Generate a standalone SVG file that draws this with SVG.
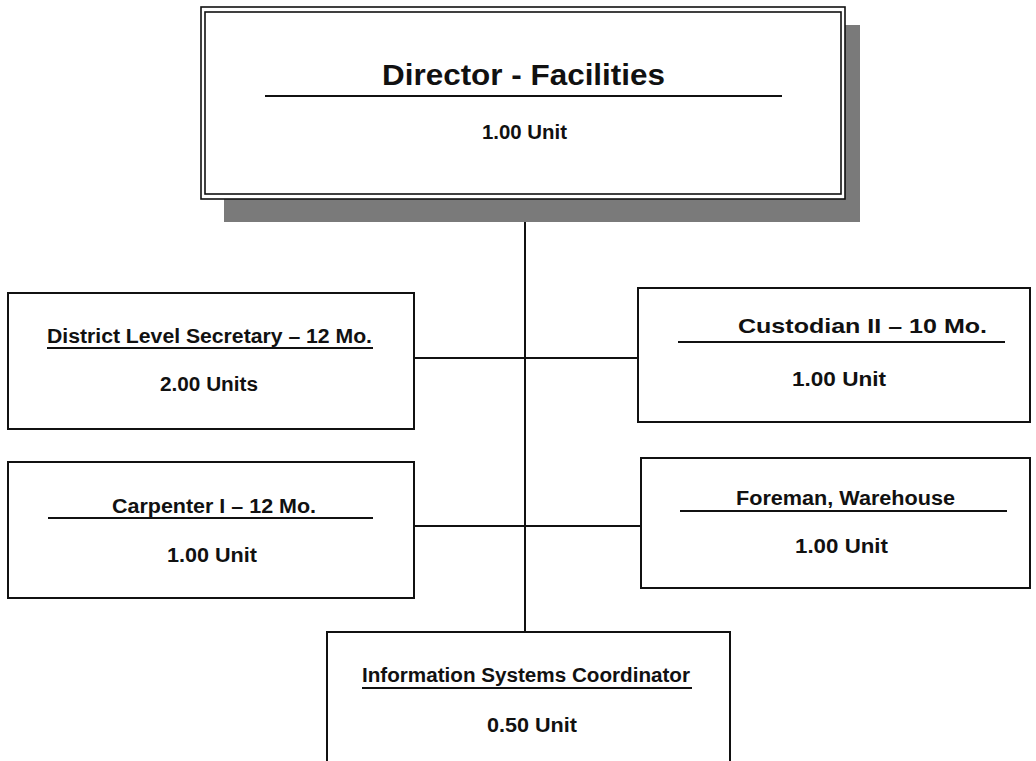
<svg xmlns="http://www.w3.org/2000/svg" width="1036" height="761" viewBox="0 0 1036 761">
<style>
.box{fill:#fff;stroke:#111;stroke-width:2}
.dbl{fill:none;stroke:#111;stroke-width:1.6}
.ul{stroke:#111;stroke-width:2}
.t{font-family:"Liberation Sans",Arial,sans-serif;font-weight:bold;fill:#111;font-size:20px}
.big{font-size:29px}
.con{stroke:#111;stroke-width:2;fill:none}
</style>
<rect width="1036" height="761" fill="#fff"/>
<g id="connectors">
<line class="con" x1="525" y1="199" x2="525" y2="632"/>
<line class="con" x1="414" y1="358" x2="638" y2="358"/>
<line class="con" x1="414" y1="526" x2="641" y2="526"/>
</g>
<g id="director">
<rect x="224" y="25" width="636" height="197" fill="#7a7a7a"/>
<rect x="201" y="7" width="644" height="192" fill="#fff"/>
<rect class="dbl" x="201" y="7" width="644" height="192"/>
<rect class="dbl" x="205" y="12" width="636" height="182"/>
<text class="t big" x="382" y="85" textLength="283" lengthAdjust="spacingAndGlyphs">Director - Facilities</text>
<line class="ul" x1="265" y1="96" x2="782" y2="96"/>
<text class="t" x="482" y="139" textLength="85" lengthAdjust="spacingAndGlyphs">1.00 Unit</text>
</g>
<g id="secretary">
<rect class="box" x="8" y="293" width="406" height="136"/>
<text class="t" x="47" y="343" textLength="325" lengthAdjust="spacingAndGlyphs">District Level Secretary – 12 Mo.</text>
<line class="ul" x1="47" y1="348" x2="373" y2="348"/>
<text class="t" x="160" y="391" textLength="98" lengthAdjust="spacingAndGlyphs">2.00 Units</text>
</g>
<g id="custodian">
<rect class="box" x="638" y="288" width="392" height="134"/>
<text class="t" x="738" y="333" textLength="249" lengthAdjust="spacingAndGlyphs" style="font-size:21px">Custodian II – 10 Mo.</text>
<line class="ul" x1="678" y1="342" x2="1005" y2="342"/>
<text class="t" x="792" y="386" textLength="94" lengthAdjust="spacingAndGlyphs">1.00 Unit</text>
</g>
<g id="carpenter">
<rect class="box" x="8" y="462" width="406" height="136"/>
<text class="t" x="112" y="513" textLength="204" lengthAdjust="spacingAndGlyphs">Carpenter I – 12 Mo.</text>
<line class="ul" x1="48" y1="518" x2="373" y2="518"/>
<text class="t" x="167" y="562" textLength="90" lengthAdjust="spacingAndGlyphs">1.00 Unit</text>
</g>
<g id="foreman">
<rect class="box" x="641" y="458" width="389" height="130"/>
<text class="t" x="736" y="505" textLength="219" lengthAdjust="spacingAndGlyphs">Foreman, Warehouse</text>
<line class="ul" x1="680" y1="511" x2="1007" y2="511"/>
<text class="t" x="795" y="553" textLength="93" lengthAdjust="spacingAndGlyphs">1.00 Unit</text>
</g>
<g id="infosys">
<rect class="box" x="327" y="632" width="403" height="140"/>
<text class="t" x="362" y="682" textLength="328" lengthAdjust="spacingAndGlyphs">Information Systems Coordinator</text>
<line class="ul" x1="362" y1="688" x2="692" y2="688"/>
<text class="t" x="487" y="732" textLength="90" lengthAdjust="spacingAndGlyphs">0.50 Unit</text>
</g>
</svg>
